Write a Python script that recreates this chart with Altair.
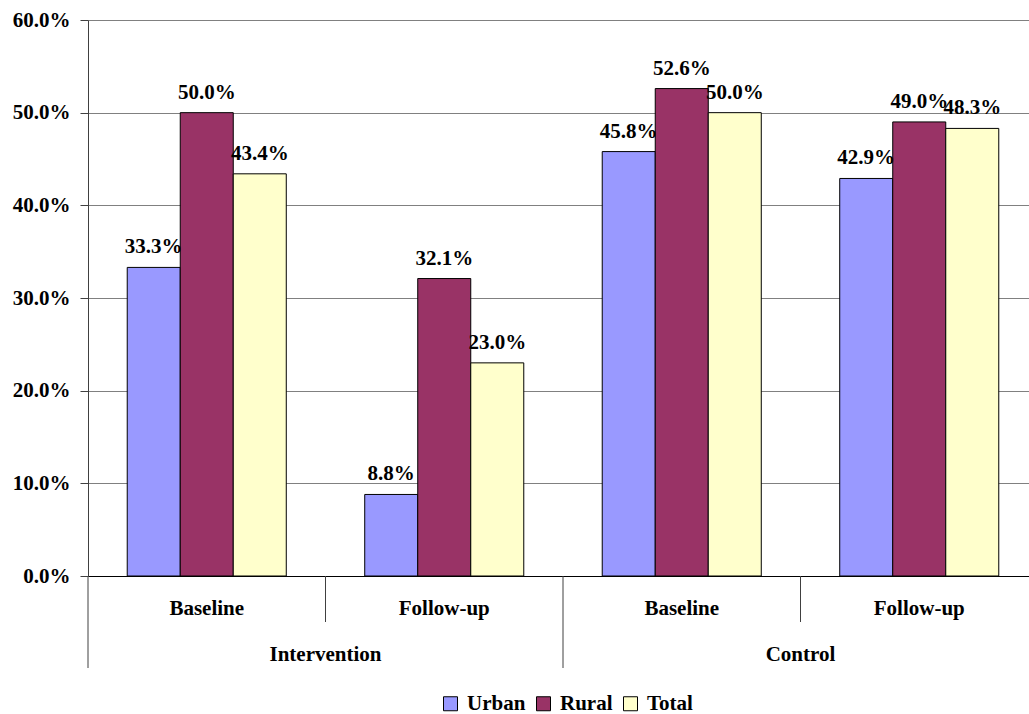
import altair as alt
import pandas as pd

groups = ["Intervention", "Intervention", "Control", "Control"]
periods = ["Baseline", "Follow-up", "Baseline", "Follow-up"]
series = ["Urban", "Rural", "Total"]
urban = [0.333, 0.088, 0.458, 0.429]
rural = [0.500, 0.321, 0.526, 0.490]
total = [0.434, 0.230, 0.500, 0.483]
colors = ["#9999FF", "#993366", "#FFFFCC"]
y_ticks = [0.0, 0.1, 0.2, 0.3, 0.4, 0.5, 0.6]

keys = [f"{g}|{p}" for g, p in zip(groups, periods)]
rows = []
for i, k in enumerate(keys):
    for s, vals in zip(series, [urban, rural, total]):
        rows.append({"key": k, "group": groups[i], "period": periods[i],
                     "series": s, "value": vals[i]})
df = pd.DataFrame(rows)

FONT = "Times New Roman"
FS = 21
W, H = 941, 556
XR = 950  # full band range; the right end falls just outside the view

x_scale = alt.Scale(paddingInner=0, paddingOuter=0, range=[0, XR])
x_bar = alt.X(
    "key:N", sort=keys, scale=x_scale,
    axis=alt.Axis(title=None, ticks=False, labelAngle=0,
                  labelExpr="split(datum.label, '|')[1]",
                  labelBaseline="middle", labelPadding=32,
                  labelFont=FONT, labelFontSize=FS, labelFontWeight="bold",
                  labelColor="black", domainColor="black", domainWidth=1,
                  grid=False),
)
x_off = alt.XOffset("series:N", sort=series,
                    scale=alt.Scale(paddingInner=0, paddingOuter=0.74))
y_enc = alt.Y(
    "value:Q",
    scale=alt.Scale(domain=[0, 0.6], nice=False, zero=True),
    axis=alt.Axis(title=None, format=".1%", values=y_ticks,
                  tickSize=8, tickColor="#404040", labelPadding=10,
                  labelFont=FONT, labelFontSize=FS, labelFontWeight="bold",
                  labelColor="black", domainColor="#404040",
                  gridColor="#808080", gridWidth=1),
)
color_enc = alt.Color(
    "series:N", sort=series,
    scale=alt.Scale(domain=series, range=colors),
    legend=alt.Legend(title=None, orient="none", legendX=352, legendY=673,
                      direction="horizontal", symbolType="square",
                      symbolSize=196, symbolStrokeColor="black",
                      symbolStrokeWidth=1, symbolOpacity=1,
                      labelFont=FONT, labelFontSize=FS,
                      labelFontWeight="bold", labelColor="black",
                      labelOffset=6, columnPadding=7),
)

base = alt.Chart(df)

bars = base.mark_bar(stroke="black", strokeWidth=1, opacity=1).encode(
    x=x_bar, xOffset=x_off, y=y_enc, color=color_enc
)

labels = base.mark_text(baseline="alphabetic", dy=-14, font=FONT,
                        fontSize=FS, fontWeight="bold", color="black").encode(
    x=alt.X("key:N", sort=keys), xOffset=x_off, y="value:Q",
    text=alt.Text("value:Q", format=".1%"),
)

long_rules = base.transform_filter(
    (alt.datum.series == "Urban") & (alt.datum.period == "Baseline")
).mark_rule(color="#404040", strokeWidth=1).encode(
    x=alt.X("key:N", sort=keys, bandPosition=0),
    y=alt.value(H), y2=alt.value(H + 92),
)

short_rules = base.transform_filter(
    (alt.datum.series == "Urban") & (alt.datum.period == "Follow-up")
).mark_rule(color="#404040", strokeWidth=1).encode(
    x=alt.X("key:N", sort=keys, bandPosition=0),
    y=alt.value(H), y2=alt.value(H + 46),
)

group_labels = base.transform_filter(
    (alt.datum.series == "Urban") & (alt.datum.period == "Baseline")
).mark_text(baseline="middle", align="center", font=FONT, fontSize=FS,
            fontWeight="bold", color="black").encode(
    x=alt.X("key:N", sort=keys, bandPosition=1),
    y=alt.value(H + 79),
    text="group:N",
)

chart = alt.layer(bars, labels, long_rules, short_rules, group_labels).properties(
    width=W, height=H,
    padding={"left": 88, "top": 20, "right": 0, "bottom": 138},
    autosize=alt.AutoSizeParams(type="none"),
).configure_view(strokeWidth=0).configure(background="white")

chart.save("out.html", embed_options={"renderer": "svg", "actions": False})
